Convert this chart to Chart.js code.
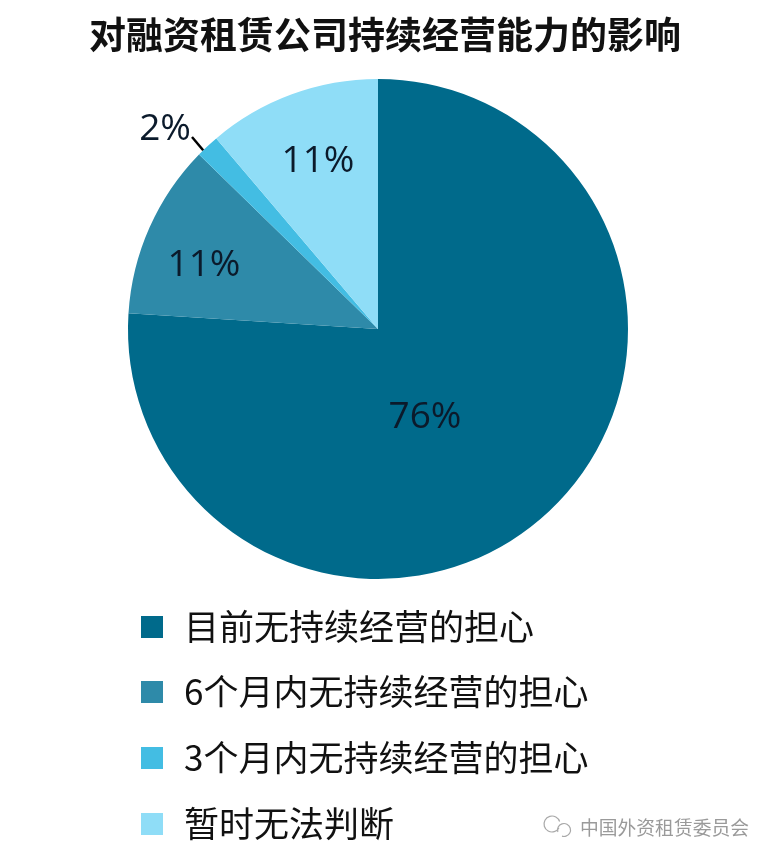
<!DOCTYPE html>
<html>
<head>
<meta charset="utf-8">
<style>
  html, body { margin: 0; padding: 0; background: #fff; }
  canvas { display: block; }
</style>
<script src="https://cdn.jsdelivr.net/npm/chart.js@4"></script>
</head>
<body>
<canvas id="myChart" width="774" height="860"></canvas>
<script>
const titleText = '对融资租赁公司持续经营能力的影响';
const labels = [
    '目前无持续经营的担心',
    '6个月内无持续经营的担心',
    '3个月内无持续经营的担心',
    '暂时无法判断',
];
const values = [76, 11.3, 1.5, 11.2];
const valueLabels = ['76%', '11%', '2%', '11%'];
const colors = ['#006a8b', '#2e8aa9', '#43bde3', '#8fddf7'];
const sourceText = '中国外资租赁委员会';

const cjkFont = '"Noto Sans CJK SC", sans-serif';
const numFont = '"Open Sans", "Noto Sans", sans-serif';

// value labels sit off the slice centres in the original, so offset from the pie centre
const labelOffsets = [[47, 88], [-174, -64], [-213, -200], [-60, -168]];

const pieLabels = {
    id: 'pieLabels',
    afterLayout(chart) {
        // title is centred a little right of the pie
        chart.titleBlock.left = 0;
        chart.titleBlock.right = 770;
    },
    afterDatasetsDraw(chart) {
        const ctx = chart.ctx;
        const arcs = chart.getDatasetMeta(0).data;
        ctx.save();
        ctx.textAlign = 'center';
        ctx.textBaseline = 'middle';
        ctx.font = '37px ' + numFont;
        ctx.fillStyle = '#0b1a2b';
        arcs.forEach((arc, i) => {
            ctx.fillText(valueLabels[i], arc.x + labelOffsets[i][0], arc.y + labelOffsets[i][1]);
        });
        // leader line for the small slice, leaves the arc just before its middle
        const small = arcs[2];
        const from = small.startAngle + (small.endAngle - small.startAngle) * 0.25;
        ctx.strokeStyle = '#000';
        ctx.lineWidth = 2.5;
        ctx.beginPath();
        ctx.moveTo(small.x + Math.cos(from) * small.outerRadius, small.y + Math.sin(from) * small.outerRadius);
        ctx.lineTo(small.x - 186, small.y - 192);
        ctx.stroke();
        ctx.restore();
    }
};

const sideLegend = {
    id: 'sideLegend',
    afterDraw(chart) {
        const ctx = chart.ctx;
        const rows = [627, 692, 758, 824];
        ctx.save();
        ctx.textBaseline = 'middle';
        labels.forEach((label, i) => {
            ctx.fillStyle = colors[i];
            ctx.fillRect(141, rows[i] - 11, 22, 22);
            ctx.fillStyle = '#111';
            ctx.font = '35px ' + cjkFont;
            ctx.fillText(label, 184, rows[i]);
        });
        // watermark
        ctx.fillStyle = '#9a9a9a';
        ctx.font = '18.8px ' + cjkFont;
        ctx.fillText(sourceText, 580, 828);
        ctx.strokeStyle = '#a8a8a8';
        ctx.lineWidth = 1.2;
        ctx.beginPath();
        ctx.arc(552, 824, 8, 0.5, Math.PI * 1.9);
        ctx.stroke();
        ctx.beginPath();
        ctx.arc(564, 830, 6.5, Math.PI * 0.9, Math.PI * 2.6);
        ctx.stroke();
        ctx.restore();
    }
};

const data = {
    labels: labels,
    datasets: [{
        data: values,
        backgroundColor: colors,
        borderWidth: 0,
    }]
};

const config = {
    type: 'pie',
    data: data,
    options: {
        responsive: false,
        animation: false,
        layout: {
            padding: { left: 0, right: 18, top: 0, bottom: 281 }
        },
        plugins: {
            legend: { display: false },
            tooltip: { enabled: false },
            title: {
                display: true,
                text: titleText,
                color: '#111',
                font: { family: cjkFont, size: 37, weight: 'bold', lineHeight: 1.2 },
                padding: { top: 13, bottom: 21.6 },
            }
        }
    },
    plugins: [pieLabels, sideLegend],
};

const myChart = new Chart(document.getElementById('myChart'), config);
</script>
</body>
</html>
